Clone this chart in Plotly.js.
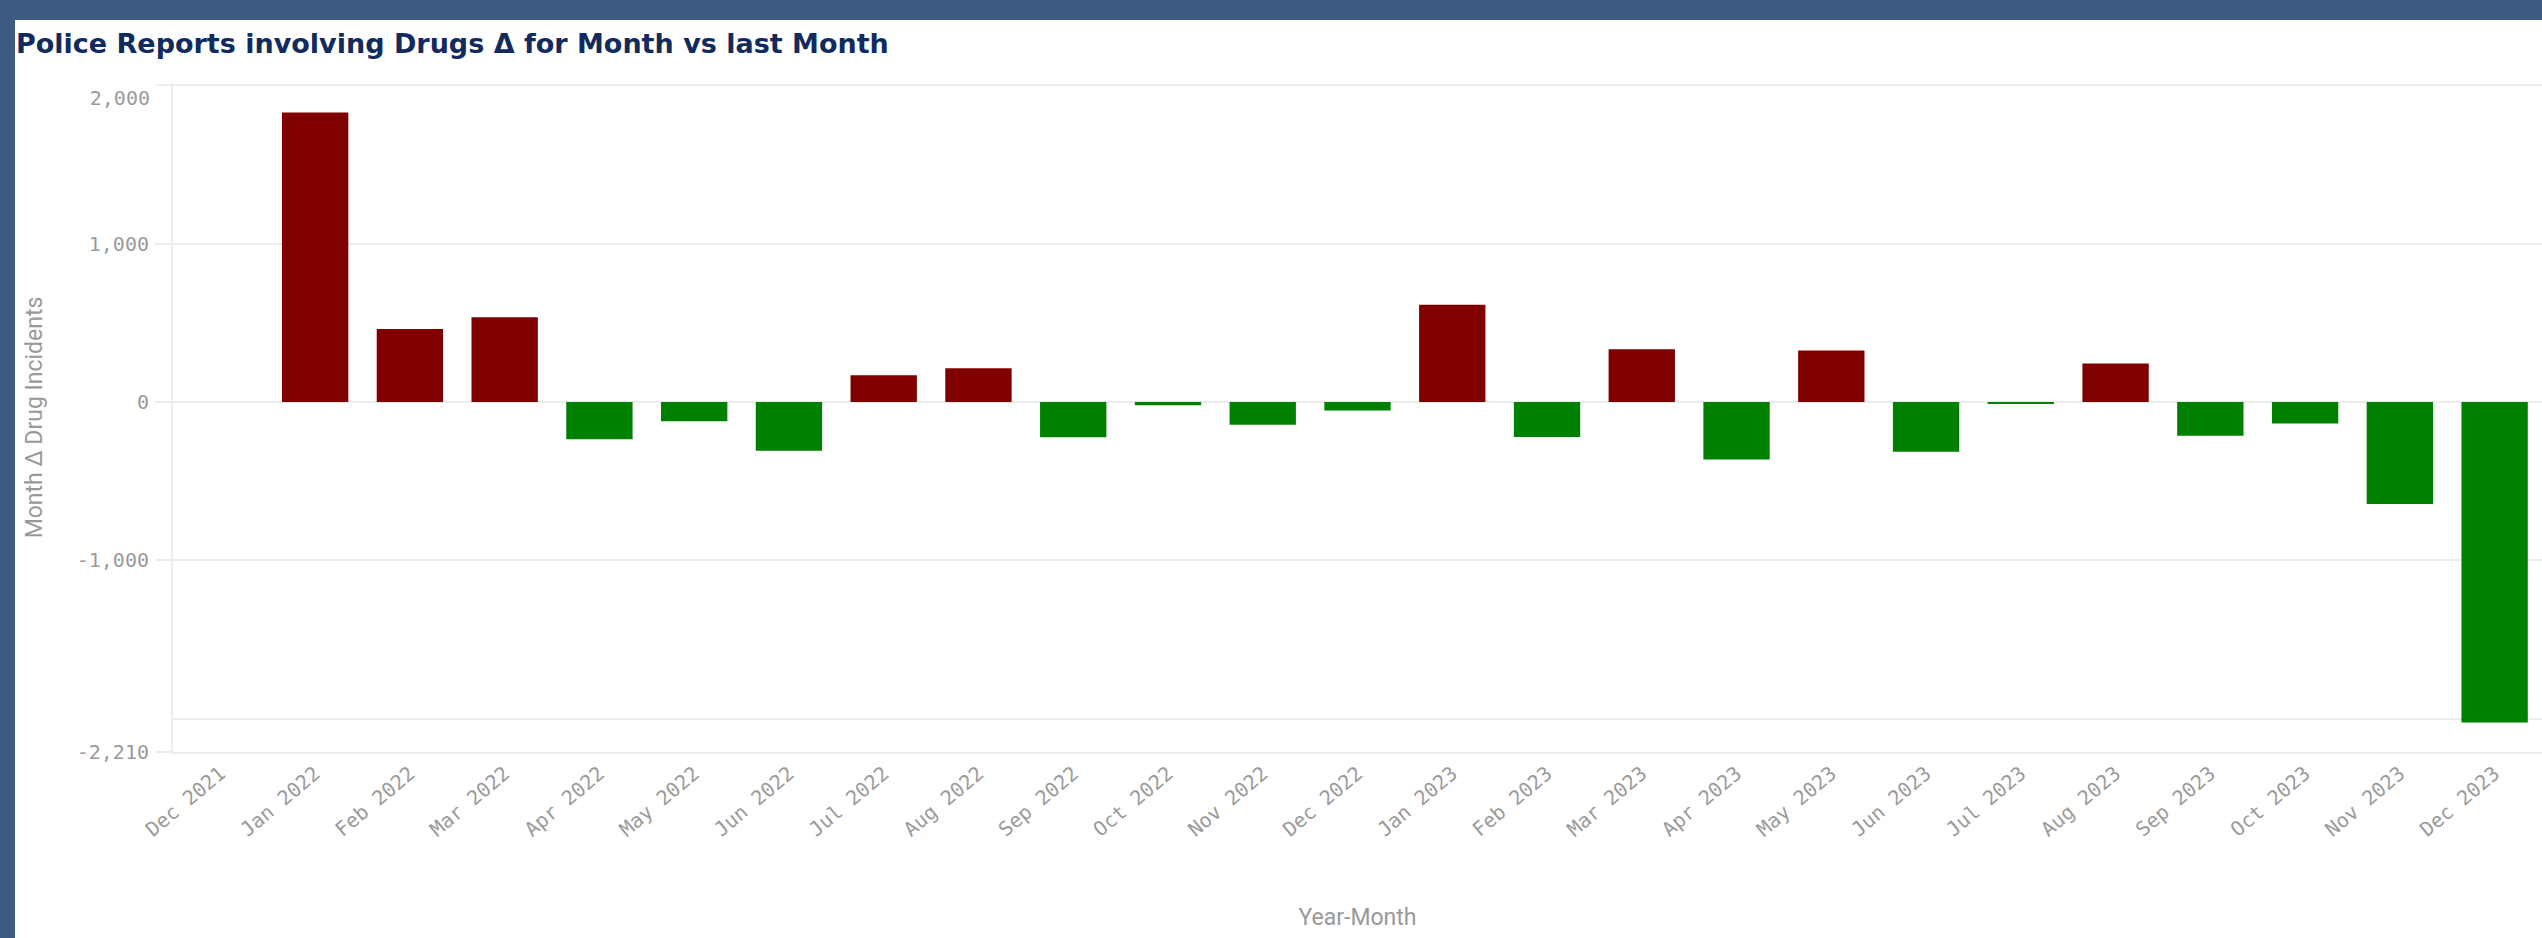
<!DOCTYPE html>
<html>
<head>
<meta charset="utf-8">
<script src="https://cdn.plot.ly/plotly-3.0.1.min.js"></script>
<style>
  html, body { margin: 0; padding: 0; width: 2542px; height: 938px; overflow: hidden; background: #3c5a7f; }
  #frame { position: absolute; left: 15px; top: 20px; width: 2527px; height: 918px; background: #ffffff; }
  #chart { width: 2527px; height: 918px; }
</style>
</head>
<body>
<div id="frame"><div id="chart"></div></div>
<script>
// ---- data ----
const months = [
  'Dec 2021', 'Jan 2022', 'Feb 2022', 'Mar 2022', 'Apr 2022', 'May 2022', 'Jun 2022',
  'Jul 2022', 'Aug 2022', 'Sep 2022', 'Oct 2022', 'Nov 2022', 'Dec 2022',
  'Jan 2023', 'Feb 2023', 'Mar 2023', 'Apr 2023', 'May 2023', 'Jun 2023',
  'Jul 2023', 'Aug 2023', 'Sep 2023', 'Oct 2023', 'Nov 2023', 'Dec 2023'
];
const deltaIncidents = [
  null, 1829, 461, 535, -235, -121, -307,
  169, 214, -222, -20, -144, -53,
  615, -221, 333, -362, 326, -314,
  -6, 244, -213, -135, -643, -2023
];
const yTickVals = [-2210, -1000, 0, 1000];
const yTickText = ['-2,210', '-1,000', '0', '1,000'];
const yTopTick = [2000];
const yTopText = ['2,000'];
const yMinorGrid = [-2000, 2000];
const yRange = [-2210, 2015];

const upColor = '#800000';
const downColor = '#008000';
const gridColor = '#ececec';
const tickFontColor = '#9a9a9a';
const monoFont = 'DejaVu Sans Mono, Liberation Mono, monospace';

const barColors = deltaIncidents.map(v => (v !== null && v > 0) ? upColor : downColor);

const trace = {
  type: 'bar',
  x: months,
  y: deltaIncidents,
  marker: { color: barColors, line: { width: 0 } },
  hoverinfo: 'x+y',
  yaxis: 'y'
};
// empty helper trace so the overlay axis (top edge tick label) gets drawn
const helperTop = { type: 'scatter', mode: 'markers', x: [months[0]], y: [null], yaxis: 'y2', hoverinfo: 'skip', showlegend: false };

const baseY = {
  range: yRange,
  autorange: false,
  fixedrange: true,
  ticks: 'outside',
  ticklen: 16,
  tickwidth: 2,
  tickcolor: gridColor,
  tickfont: { family: monoFont, size: 20, color: tickFontColor },
  ticklabelstandoff: 2
};

const layout = {
  width: 2527,
  height: 918,
  paper_bgcolor: '#ffffff',
  plot_bgcolor: '#ffffff',
  margin: { l: 158, r: 0, t: 63, b: 186, pad: 0 },
  showlegend: false,
  bargap: 0.3,
  title: {
    text: 'Police Reports involving Drugs Δ for Month vs last Month',
    font: { family: 'DejaVu Sans, Open Sans, sans-serif', size: 27, color: '#112b5e', weight: 'bold' },
    xref: 'container', x: 0, xanchor: 'left',
    yref: 'container', y: 1 - 24 / 918, yanchor: 'middle',
    pad: { l: 1 }
  },
  xaxis: {
    type: 'category',
    range: [-0.5, 24.5],
    autorange: false,
    fixedrange: true,
    showgrid: false,
    zeroline: false,
    showline: true,
    linecolor: gridColor,
    linewidth: 2,
    ticks: '',
    tickangle: -40,
    tickfont: { family: monoFont, size: 20, color: tickFontColor },
    title: {
      text: 'Year-Month',
      font: { family: 'Roboto, sans-serif', size: 23, color: '#999999' },
      standoff: 68
    },
    automargin: false
  },
  yaxis: Object.assign({}, baseY, {
    tickvals: yTickVals,
    ticktext: yTickText,
    showgrid: true,
    gridcolor: gridColor,
    gridwidth: 2,
    zeroline: true,
    zerolinecolor: gridColor,
    zerolinewidth: 2,
    showline: true,
    linecolor: gridColor,
    linewidth: 2,
    minor: { tickvals: yMinorGrid, showgrid: true, gridcolor: gridColor, gridwidth: 2, ticks: '' },
    title: {
      text: 'Month Δ Drug Incidents',
      font: { family: 'Roboto, sans-serif', size: 23, color: '#999999' },
      standoff: 28
    },
    automargin: false
  }),
  yaxis2: Object.assign({}, baseY, {
    overlaying: 'y',
    side: 'left',
    tickvals: yTopTick,
    ticktext: yTopText,
    showgrid: false,
    zeroline: false,
    showline: false,
    ticklabelshift: 13
  })
};

Plotly.newPlot('chart', [trace, helperTop], layout, { displayModeBar: false, responsive: false });
</script>
</body>
</html>
